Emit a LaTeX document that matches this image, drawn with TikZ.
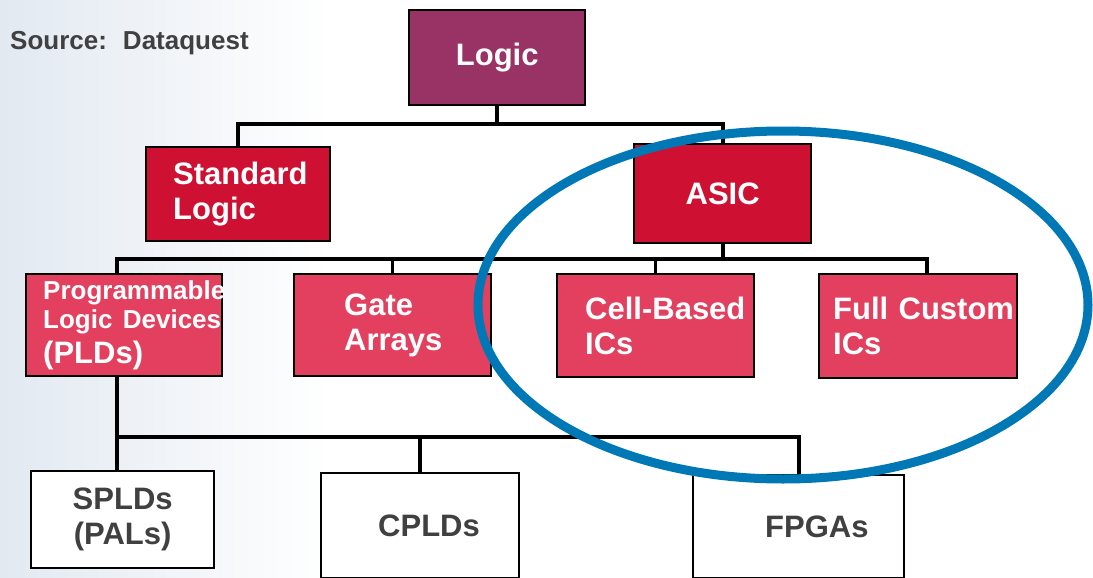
\documentclass[tikz,border=0pt]{standalone}
\usepackage{fontspec}
\setmainfont{Liberation Sans}
\usetikzlibrary{positioning,calc}

\definecolor{logicpurple}{RGB}{153,51,102}
\definecolor{asicred}{RGB}{206,16,50}
\definecolor{devpink}{RGB}{226,64,94}
\definecolor{ringblue}{RGB}{0,120,182}
\definecolor{labelgray}{RGB}{64,64,64}
\definecolor{slideblue}{RGB}{226,233,241}

\begin{document}
\begin{tikzpicture}[
    x=1pt, y=-1pt,
    box/.style={draw=black, line width=2.4pt, anchor=north west, inner sep=0pt,
                font=\bfseries\fontsize{31}{35}\selectfont,
                execute at begin node={\hyphenpenalty=10000 \exhyphenpenalty=10000 \hbadness=10000 \hfuzz=60pt}},
    redbox/.style={box, fill=#1, text=white},
    leaf/.style={box, fill=white, text=labelgray},
    indent/.style 2 args={align=left, inner xsep=#1, text width=#2},
    bus/.style={line width=4pt},
    drop/.style={line width=2.5pt},
    ring/.style={draw=ringblue, line width=9pt},
]
  % slide background
  \fill[white] (0,0) rectangle (1093,578);
  \fill[left color=slideblue, right color=white] (0,0) rectangle (330,578);
  \useasboundingbox (0,0) rectangle (1093,578);

  \node[font=\bfseries\fontsize{26}{30}\selectfont, text=labelgray, anchor=base west, inner sep=0pt]
    (source) at (10,50) {Source:\hspace{16pt}Dataquest};

  \node[redbox=logicpurple, minimum width=176pt, minimum height=95pt] (logic) at (408,9) {Logic};

  \node[redbox=asicred, indent={27pt}{130pt}, minimum height=94pt] (std) at (145,146) {Standard\\Logic};
  \node[redbox=asicred, minimum width=177pt, minimum height=99pt] (asic) at (633,143) {ASIC};

  \node[redbox=devpink, indent={17pt}{162pt}, minimum height=102pt] (pld) at (25,273)
    {\fontsize{26}{29}\selectfont Programmable\\Logic~Devices\\\fontsize{31}{34}\selectfont (PLDs)};
  \node[redbox=devpink, indent={50pt}{97pt}, minimum height=102pt] (gate) at (293,273) {Gate\\Arrays};
  \node[redbox=devpink, indent={28pt}{141pt}, minimum height=103pt] (cell) at (556,273) {Cell-Based\\ICs};
  \node[redbox=devpink, indent={14pt}{170pt}, minimum height=104pt] (full) at (818,273) {Full~Custom\\ICs};

  \node[leaf, align=center, minimum width=183pt, minimum height=97pt] (spld) at (30,470) {SPLDs\\(PALs)};
  \node[leaf, indent={57pt}{84pt}, minimum height=105pt] (cpld) at (320,472) {CPLDs};
  \node[leaf, indent={72pt}{67pt}, minimum height=103pt] (fpga) at (692,474) {FPGAs};

  \coordinate (bus1) at (0,124);
  \coordinate (bus2) at (0,259);
  \coordinate (bus3) at (0,437);
  \coordinate (pldtap) at ([xshift=-7pt]pld.center);
  \coordinate (fulltap) at ([xshift=9pt]full.center);

  % tree connectors
  \draw[bus] (logic.south) -- (logic.south |- bus1);
  \draw[bus] (std.north) -- (std.north |- bus1) -- (asic.north |- bus1) -- (asic.north);

  \draw[bus] (asic.south) -- (asic.south |- bus2);
  \draw[bus] (pldtap |- pld.north) -- (pldtap |- bus2) -- (fulltap |- bus2) -- (fulltap |- full.north);
  \draw[drop] (gate.north) -- (gate.north |- bus2);
  \draw[drop] (cell.north) -- (cell.north |- bus2);

  \draw[bus] (pldtap |- pld.south) -- (pldtap |- spld.north);
  \draw[bus] (pldtap |- bus3) -- (fpga.north |- bus3) -- (fpga.north);
  \draw[bus] (cpld.north) -- (cpld.north |- bus3);

  % highlight round the ASIC branch
  \draw[ring] (783,305) ellipse [x radius=305pt, y radius=174pt];
\end{tikzpicture}
\end{document}
